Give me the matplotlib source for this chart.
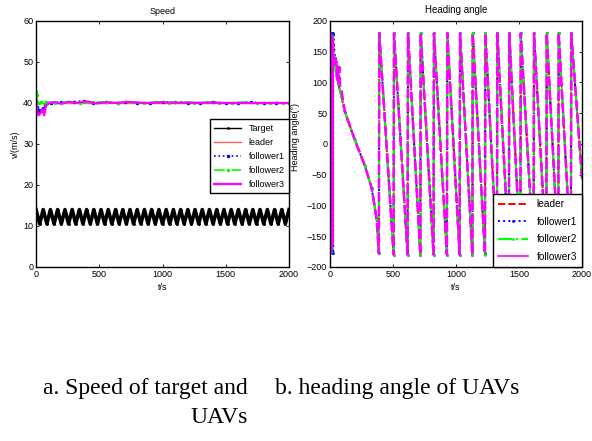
import matplotlib
matplotlib.use('Agg')
import matplotlib.pyplot as plt

plt.rcParams['font.family'] = ['Liberation Sans', 'DejaVu Sans']

# Speed (a)
target_t = [0, 29, 57, 86, 114, 143, 171, 200, 229, 257, 286, 314, 343, 371, 400, 429,
            457, 486, 514, 543, 571, 600, 629, 657, 686, 714, 743, 771, 800, 829, 857,
            886, 914, 943, 971, 1000, 1029, 1057, 1086, 1114, 1143, 1171, 1200, 1229,
            1257, 1286, 1314, 1343, 1371, 1400, 1429, 1457, 1486, 1514, 1543, 1571,
            1600, 1629, 1657, 1686, 1714, 1743, 1771, 1800, 1829, 1857, 1886, 1914,
            1943, 1971, 2000]
target_v = [14.0, 10.5, 14.0, 10.5, 14.0, 10.5, 14.0, 10.5, 14.0, 10.5, 14.0, 10.5,
            14.0, 10.5, 14.0, 10.5, 14.0, 10.5, 14.0, 10.5, 14.0, 10.5, 14.0, 10.5,
            14.0, 10.5, 14.0, 10.5, 14.0, 10.5, 14.0, 10.5, 14.0, 10.5, 14.0, 10.5,
            14.0, 10.5, 14.0, 10.5, 14.0, 10.5, 14.0, 10.5, 14.0, 10.5, 14.0, 10.5,
            14.0, 10.5, 14.0, 10.5, 14.0, 10.5, 14.0, 10.5, 14.0, 10.5, 14.0, 10.5,
            14.0, 10.5, 14.0, 10.5, 14.0, 10.5, 14.0, 10.5, 14.0, 10.5, 14.0]

leader_sp_t = [0, 2000]
leader_sp_v = [40.0, 40.0]

f1_sp_t = [0, 8, 15, 25, 40, 55, 70, 85, 120, 200, 300, 380, 450, 550, 650, 700, 800,
           900, 1000, 1100, 1200, 1300, 1400, 1500, 1600, 1700, 1800, 1900, 2000]
f1_sp_v = [40.5, 39.0, 37.8, 38.2, 38.0, 38.8, 39.5, 40.0, 40.1, 40.2, 40.3, 40.5, 40.0,
           40.2, 39.9, 40.3, 40.1, 39.9, 40.2, 40.3, 40.0, 40.1, 40.2, 40.0, 40.1, 40.2,
           40.0, 40.1, 40.0]

f2_sp_t = [0, 5, 10, 20, 40, 60, 80, 150, 250, 350, 450, 550, 650, 750, 850, 950, 1050,
           1150, 1250, 1350, 1450, 1550, 1650, 1750, 1850, 1950, 2000]
f2_sp_v = [42.6, 42.0, 40.3, 40.0, 40.3, 40.0, 40.2, 40.1, 40.3, 40.0, 40.2, 40.3, 40.1,
           40.2, 40.0, 40.3, 40.1, 40.3, 40.1, 40.2, 40.0, 40.1, 40.2, 40.0, 40.1, 40.0, 40.0]

f3_sp_t = [0, 10, 20, 35, 50, 65, 80, 100, 150, 200, 260, 320, 400, 480, 560, 640, 720,
           800, 900, 1000, 1100, 1200, 1300, 1400, 1500, 1600, 1700, 1800, 1900, 2000]
f3_sp_v = [41.5, 38.0, 37.0, 37.5, 38.5, 37.0, 39.5, 40.0, 40.2, 39.8, 40.3, 40.0, 40.4,
           39.9, 40.2, 40.0, 40.3, 40.1, 40.0, 40.2, 40.0, 40.1, 40.0, 40.1, 40.0, 40.0,
           40.0, 40.0, 40.0, 40.0]

# Heading angle (b)
lead_hd_t = [0, 4, 8, 12, 16, 20, 30, 45, 66, 119, 198, 278, 331, 371, 388,
             391, 505, 508, 616, 619, 717, 720, 822, 825, 928, 931, 1029, 1032, 1130,
             1133, 1230, 1233, 1325, 1328, 1420, 1423, 1511, 1514, 1616, 1619, 1717,
             1720, 1812, 1815, 1912, 1915, 2000]
lead_hd_v = [0, 178, -178, 175, -175, 170, 150, 122, 98, 52, 6, -36, -72, -123, -178,
             180, -180, 180, -180, 180, -180, 180, -180, 180, -180, 180, -180, 180, -180,
             180, -180, 180, -178, 180, -180, 180, -178, 180, -180, 180, -180,
             180, -178, 180, -180, 180, -55]

f1_hd_t = [0, 5, 9, 14, 18, 22, 25, 26, 40, 52, 66, 119, 198, 278, 331, 371, 388,
           391, 505, 508, 616, 619, 717, 720, 822, 825, 928, 931, 1029, 1032, 1130,
           1133, 1230, 1233, 1325, 1328, 1420, 1423, 1511, 1514, 1616, 1619, 1717,
           1720, 1812, 1815, 1912, 1915, 2000]
f1_hd_v = [10, 180, -175, 178, -178, 180, -178, 178, 140, 115, 98, 52, 6, -36, -72,
           -123, -178, 180, -180, 180, -180, 180, -180, 180, -180, 180, -180, 180, -180,
           180, -180, 180, -178, 180, -180, 180, -178, 180, -180, 180, -180, 180, -180,
           180, -178, 180, -180, 180, -55]

f2_hd_t = [0, 3, 7, 11, 15, 19, 30, 45, 66, 119, 198, 278, 331, 371, 388,
           391, 505, 508, 616, 619, 717, 720, 822, 825, 928, 931, 1029, 1032, 1130,
           1133, 1230, 1233, 1325, 1328, 1420, 1423, 1511, 1514, 1616, 1619, 1717,
           1720, 1812, 1815, 1912, 1915, 2000]
f2_hd_v = [-20, -178, 178, -175, 175, 165, 140, 118, 98, 52, 6, -36, -72, -123, -178,
           180, -180, 180, -180, 180, -180, 180, -180, 180, -180, 180, -180, 180, -180,
           180, -180, 180, -178, 180, -180, 180, -178, 180, -180, 180, -180,
           180, -178, 180, -180, 180, -55]

f3_hd_t = [0, 2, 4, 6, 8, 10, 12, 14, 16, 18, 20, 22, 28, 40, 50, 56, 62, 68, 74, 80,
           90, 119, 198, 278, 331, 371, 388, 391, 505, 508, 616, 619, 717, 720, 822,
           825, 928, 931, 1029, 1032, 1130, 1133, 1230, 1233, 1325, 1328, 1420, 1423,
           1511, 1514, 1616, 1619, 1717, 1720, 1812, 1815, 1912, 1915, 2000]
f3_hd_v = [-10, 180, -178, 178, -175, 178, -170, 175, -165, 172, -160, 170, 150, 125,
           135, 105, 130, 100, 125, 95, 88, 52, 6, -36, -72, -123, -178, 180, -180, 180,
           -180, 180, -180, 180, -180, 180, -180, 180, -180, 180, -180, 180, -178, 180,
           -180, 180, -178, 180, -180, 180, -180, 180, -180, 180, -178, 180, -180, 180,
           -55]

speed_ticks = [0, 10, 20, 30, 40, 50, 60]
head_ticks = [-200, -150, -100, -50, 0, 50, 100, 150, 200]
t_ticks = [0, 500, 1000, 1500, 2000]

fig = plt.figure(figsize=(5.92, 4.41), dpi=100)
ax1 = fig.add_axes([0.0608, 0.3946, 0.4274, 0.5578])
ax2 = fig.add_axes([0.5574, 0.3946, 0.4257, 0.5578])

ax1.plot(target_t, target_v, color='k', lw=2.6, marker='.', ms=2, label='Target')
ax1.plot(leader_sp_t, leader_sp_v, color='#ff6060', lw=1.0, label='leader')
ax1.plot(f1_sp_t, f1_sp_v, color='b', lw=1.2, ls=':', marker='.', ms=3, label='follower1')
ax1.plot(f2_sp_t, f2_sp_v, color='#00ff00', lw=1.2, ls='-.', marker='.', ms=3, label='follower2')
ax1.plot(f3_sp_t, f3_sp_v, color='#ff00ff', lw=1.6, label='follower3')

ax2.plot(lead_hd_t, lead_hd_v, color='r', lw=1.4, ls='--', label='leader')
ax2.plot(f1_hd_t, f1_hd_v, color='b', lw=1.4, ls=':', marker='.', ms=2, label='follower1')
ax2.plot(f2_hd_t, f2_hd_v, color='#00ff00', lw=1.6, ls='-.', marker='.', ms=2, label='follower2')
ax2.plot(f3_hd_t, f3_hd_v, color='#ff00ff', lw=1.8, ls=(0, (4, 1.5)), label='follower3')

ax1.set_xlim(0, 2000)
ax1.set_ylim(0, 60)
ax1.set_yticks(speed_ticks)
ax2.set_xlim(0, 2000)
ax2.set_ylim(-200, 200)
ax2.set_yticks(head_ticks)

for ax in (ax1, ax2):
    ax.set_xticks(t_ticks)
    ax.tick_params(direction='in', length=2.5, width=0.6, labelsize=6.5, pad=2,
                   top=True, right=True)
    for s in ax.spines.values():
        s.set_linewidth(1.0)
    ax.set_xlabel('t/s', fontsize=6.5, labelpad=3)

ax1.set_title('Speed', fontsize=6.5, pad=5)
ax2.set_title('Heading angle', fontsize=7, pad=6)
ax1.set_ylabel('v/(m/s)', fontsize=6.5)
ax1.yaxis.set_label_coords(-0.065, 0.5)
ax2.set_ylabel('Heading angle(°)', fontsize=6.5)
ax2.yaxis.set_label_coords(-0.12, 0.53)

leg1 = ax1.legend(loc='upper right', bbox_to_anchor=(1.0, 0.60), borderaxespad=0,
                  fontsize=6.5, numpoints=1, handlelength=3.0, labelspacing=0.55,
                  fancybox=False, edgecolor='k', framealpha=1, borderpad=0.5)
leg1.get_frame().set_linewidth(1.0)
leg1.get_lines()[0].set_linewidth(1.0)
leg2 = ax2.legend(loc='lower right', borderaxespad=0, fontsize=7.3, numpoints=1,
                  handlelength=3.0, labelspacing=0.75, fancybox=False, edgecolor='k',
                  framealpha=1, borderpad=0.5)
leg2.get_frame().set_linewidth(1.0)
leg2.get_lines()[3].set_linestyle('-')
leg2.get_lines()[3].set_linewidth(1.2)

fig.text(248 / 592, 1 - 378 / 441, 'a. Speed of target and\nUAVs', ha='right', va='top',
         multialignment='right', fontsize=17, linespacing=1.5, family='Liberation Serif')
fig.text(275 / 592, 1 - 378 / 441, 'b. heading angle of UAVs', ha='left', va='top',
         fontsize=17, family='Liberation Serif')

fig.savefig('out.png', dpi=100)
